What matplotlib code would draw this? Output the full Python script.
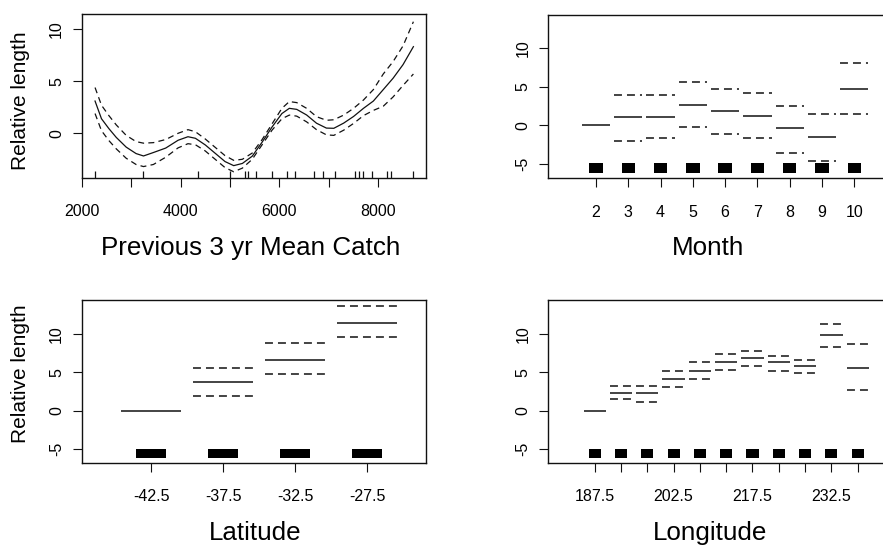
import matplotlib
matplotlib.use('Agg')
import matplotlib.pyplot as plt
import numpy as np

plt.rcParams['font.family'] = ['Liberation Sans', 'DejaVu Sans']

# ---------------- data ----------------
# Panel 1: smooth of previous 3 yr mean catch
catch_x = [2270, 2400, 2550, 2700, 2900, 3100, 3250, 3450, 3700, 3950, 4150, 4300,
           4500, 4700, 4900, 5075, 5250, 5450, 5650, 5850, 6050, 6200, 6350, 6550,
           6750, 6950, 7100, 7300, 7500, 7700, 7900, 8100, 8300, 8500, 8710]
catch_fit = [3.1, 1.4, 0.45, -0.4, -1.33, -1.95, -2.18, -1.85, -1.42, -0.67, -0.33, -0.48,
             -1.12, -1.92, -2.72, -3.11, -2.9, -2.2, -0.85, 0.6, 1.9, 2.4, 2.3, 1.76,
             0.97, 0.5, 0.48, 0.98, 1.62, 2.4, 3.1, 4.2, 5.3, 6.6, 8.33]
catch_upper = [4.4, 2.7, 1.7, 0.8, -0.2, -0.8, -0.95, -0.9, -0.6, 0.0, 0.35, 0.15,
               -0.55, -1.35, -2.15, -2.6, -2.5, -1.9, -0.6, 0.9, 2.4, 3.05, 2.95, 2.4,
               1.6, 1.25, 1.3, 1.75, 2.4, 3.2, 4.2, 5.7, 6.9, 8.4, 10.73]
catch_lower = [1.9, 0.25, -0.7, -1.5, -2.4, -3.0, -3.2, -3.0, -2.3, -1.4, -1.0, -1.1,
               -1.7, -2.5, -3.3, -3.7, -3.35, -2.5, -1.1, 0.3, 1.4, 1.75, 1.65, 1.1,
               0.35, -0.15, -0.2, 0.3, 0.95, 1.7, 2.2, 2.6, 3.5, 4.6, 5.7]
catch_rug = [2269, 3230, 4347, 5010, 5304, 5370, 5520, 5844, 6147, 6315, 6700, 6876,
             7125, 7529, 7610, 7697, 7867, 8170, 8257, 8708]
catch_ticks = [2000, 3000, 4000, 5000, 6000, 7000, 8000]
catch_ticklabels = ['2000', '', '4000', '', '6000', '', '8000']

# Panel 2: Month
month_levels = ['2', '3', '4', '5', '6', '7', '8', '9', '10']
month_fit = [0.0, 1.04, 1.04, 2.72, 1.9, 1.2, -0.35, -1.43, 4.74]
month_upper = [np.nan, 3.93, 3.93, 5.65, 4.79, 4.15, 2.5, 1.46, 8.11]
month_lower = [np.nan, -2.07, -1.6, -0.22, -1.04, -1.6, -3.55, -4.58, 1.46]

# Panel 3: Latitude
lat_levels = ['-42.5', '-37.5', '-32.5', '-27.5']
lat_fit = [0.0, 3.78, 6.6, 11.46]
lat_upper = [np.nan, 5.6, 8.77, 13.59]
lat_lower = [np.nan, 1.87, 4.74, 9.55]

# Panel 4: Longitude
lon_levels = ['187.5', '192.5', '197.5', '202.5', '207.5', '212.5', '217.5',
              '222.5', '227.5', '232.5', '237.5']
lon_shown = ['187.5', '202.5', '217.5', '232.5']
lon_fit = [0.0, 2.3, 2.3, 4.17, 5.21, 6.34, 6.86, 6.3, 5.82, 9.87, 5.62]
lon_upper = [np.nan, 3.17, 3.17, 5.21, 6.3, 7.34, 7.73, 7.08, 6.68, 11.26, 8.76]
lon_lower = [np.nan, 1.48, 1.18, 3.09, 4.13, 5.34, 5.82, 5.17, 4.99, 8.33, 2.7]

y_ticks_factor = [-5, 0, 5, 10]
y_ticks_catch = [0, 5, 10]

# ---------------- layout ----------------
W, H = 883, 545
fig = plt.figure(figsize=(W / 100, H / 100), dpi=100)


def add_ax(l, r, t, b):
    return fig.add_axes([l / W, (H - b) / H, (r - l) / W, (b - t) / H])


LC = '#111111'
TICK_FS = 11.5
LAB_FS = 18.7


def style(ax, yticks, ylabels_pad=6):
    for s in ax.spines.values():
        s.set_linewidth(1.0)
        s.set_color(LC)
    ax.tick_params(direction='out', length=6.8, width=0.8, colors=LC,
                   labelsize=TICK_FS, labelcolor='black')
    ax.tick_params(axis='x', pad=12.3)
    ax.tick_params(axis='y', pad=ylabels_pad)
    ax.set_yticks(yticks)
    ax.set_yticklabels([str(v) for v in yticks], rotation=90, va='center')


# Panel 1
ax1 = add_ax(81.7, 426.3, 14, 177.7)
ax1.plot(catch_x, catch_fit, color=LC, lw=0.9)
ax1.plot(catch_x, catch_upper, color=LC, lw=0.9, dashes=(4.8, 3.4))
ax1.plot(catch_x, catch_lower, color=LC, lw=0.9, dashes=(4.8, 3.4))
ax1.vlines(catch_rug, 0, 0.04, transform=ax1.get_xaxis_transform(), color=LC, lw=0.9)
ax1.set_xlim(2000, 8971)
ax1.set_ylim(-4.27, 11.47)
ax1.set_xticks(catch_ticks)
ax1.set_xticklabels(catch_ticklabels)
style(ax1, y_ticks_catch)


def factor_panel(ax, levels, fit, upper, lower, hw, bw, shown=None):
    pos = np.arange(len(levels))
    ax.hlines(fit, pos - hw, pos + hw, color=LC, lw=1.1)
    ax.hlines(upper, pos - hw, pos + hw, color=LC, lw=1.1, linestyles=[(0, (5.2, 3.3))])
    ax.hlines(lower, pos - hw, pos + hw, color=LC, lw=1.1, linestyles=[(0, (5.2, 3.3))])
    ax.bar(pos, 1.26, bottom=-6.19, width=bw, color='black', linewidth=0)
    ax.set_xticks(pos)
    if shown is None:
        ax.set_xticklabels(levels)
    else:
        ax.set_xticklabels([lv if lv in shown else '' for lv in levels])
    style(ax, y_ticks_factor)


# Panel 2
ax2 = add_ax(548.3, 900, 14.7, 178.3)
factor_panel(ax2, month_levels, month_fit, month_upper, month_lower, 0.438, 0.415)
ax2.set_xlim(-1.477, 9.415)
ax2.set_ylim(-6.85, 14.37)

# Panel 3
ax3 = add_ax(81.7, 426, 300.3, 462.7)
factor_panel(ax3, lat_levels, lat_fit, lat_upper, lat_lower, 0.413, 0.426)
ax3.set_xlim(-0.9625, 3.819)
ax3.set_ylim(-6.74, 14.38)

# Panel 4
ax4 = add_ax(548.3, 900, 300.3, 462.7)
factor_panel(ax4, lon_levels, lon_fit, lon_upper, lon_lower, 0.424, 0.46, shown=lon_shown)
ax4.set_xlim(-1.764, 11.61)
ax4.set_ylim(-6.74, 14.38)

# axis labels
def ftxt(x, y, s, **kw):
    fig.text(x / W, (H - y) / H, s, **kw)

ftxt(20.7, 100.8, 'Relative length', rotation=90, ha='center', va='center', fontsize=15)
ftxt(20.7, 373.7, 'Relative length', rotation=90, ha='center', va='center', fontsize=15)
ftxt(250.8, 255, 'Previous 3 yr Mean Catch', ha='center', va='baseline', fontsize=LAB_FS)
ftxt(707.7, 255, 'Month', ha='center', va='baseline', fontsize=LAB_FS)
ftxt(255.5, 540.3, 'Latitude', ha='center', va='baseline', fontsize=LAB_FS)
ftxt(710.2, 540.3, 'Longitude', ha='center', va='baseline', fontsize=LAB_FS)

fig.savefig('out.png', dpi=100)
